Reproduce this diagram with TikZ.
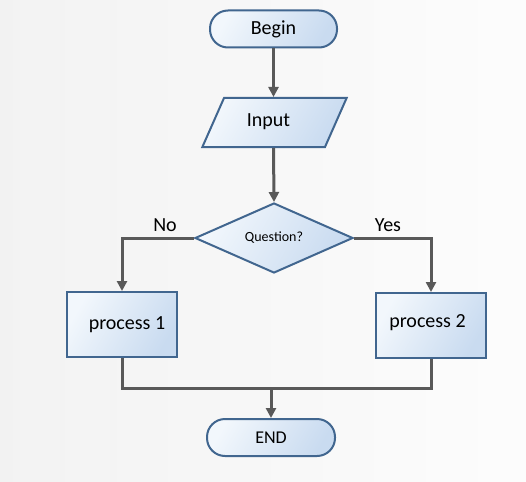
\documentclass[tikz,border=0pt]{standalone}
\usepackage{fontspec}
\setmainfont{Carlito}
\usetikzlibrary{shapes.geometric,arrows.meta}
\definecolor{bord}{HTML}{41668F}
\definecolor{lnc}{HTML}{595959}
\definecolor{fa}{HTML}{F2F7FC}
\definecolor{fb}{HTML}{C9DBF0}
\tikzset{
  boxfill/.style={draw=bord,line width=2pt,left color=fa,right color=fb,shading angle=60},
  term/.style={boxfill,rectangle,rounded corners=18pt,minimum width=127pt,minimum height=37pt,inner sep=0pt,font=\fontsize{20}{22}\selectfont},
  inbox/.style={boxfill,trapezium,trapezium left angle=60,trapezium right angle=120,trapezium stretches=true,minimum width=145pt,minimum height=49pt,inner sep=0pt,font=\fontsize{20}{22}\selectfont},
  decide/.style={boxfill,diamond,minimum width=158pt,minimum height=70pt,inner sep=0pt,font=\fontsize{14}{16}\selectfont},
  procbox/.style={boxfill,rectangle,minimum width=110pt,minimum height=65pt,inner sep=0pt},
  conn/.style={draw=lnc,line width=3pt},
  arr/.style={conn,-{Triangle[length=10pt,width=10pt]}},
  lbl/.style={inner sep=0pt,font=\fontsize{20}{22}\selectfont}
}
\begin{document}
\begin{tikzpicture}[x=1pt,y=-1pt]
\useasboundingbox (0,0) rectangle (526,481);
\shade[left color=black!5,right color=black!1] (0,0) rectangle (526,481);
\node[term] (b) at (273.5,29) {Begin};
\node[inbox] (in) at (274.5,122.5) {\phantom{Input}};
\node[lbl] (tin) at (268.5,122) {Input};
\node[decide] (q) at (274,238) {Question?};
\node[procbox] (p1) at (122,324.5) {};
\node[lbl] (tp1) at (127,325) {process 1};
\node[procbox] (p2) at (431,325.5) {};
\node[lbl] (tp2) at (427.5,323) {process 2};
\node[term,minimum width=128pt] (e) at (271,437.5) {\fontsize{18}{20}\selectfont END};
\node[lbl] (no) at (165,225) {No};
\node[lbl] (yes) at (388,225) {Yes};
\coordinate (m) at (271,388);
\draw[arr] (b.south) -- (b.south |- in.north);
\draw[arr] (in.south -| b.south) -- (q.north);
\draw[arr] (q.west) -| (p1.north);
\draw[arr] (q.east) -| (p2.north);
\draw[conn] (p1.south) |- (m) -| (p2.south);
\draw[arr] (m) -- (e.north);
\end{tikzpicture}
\end{document}
